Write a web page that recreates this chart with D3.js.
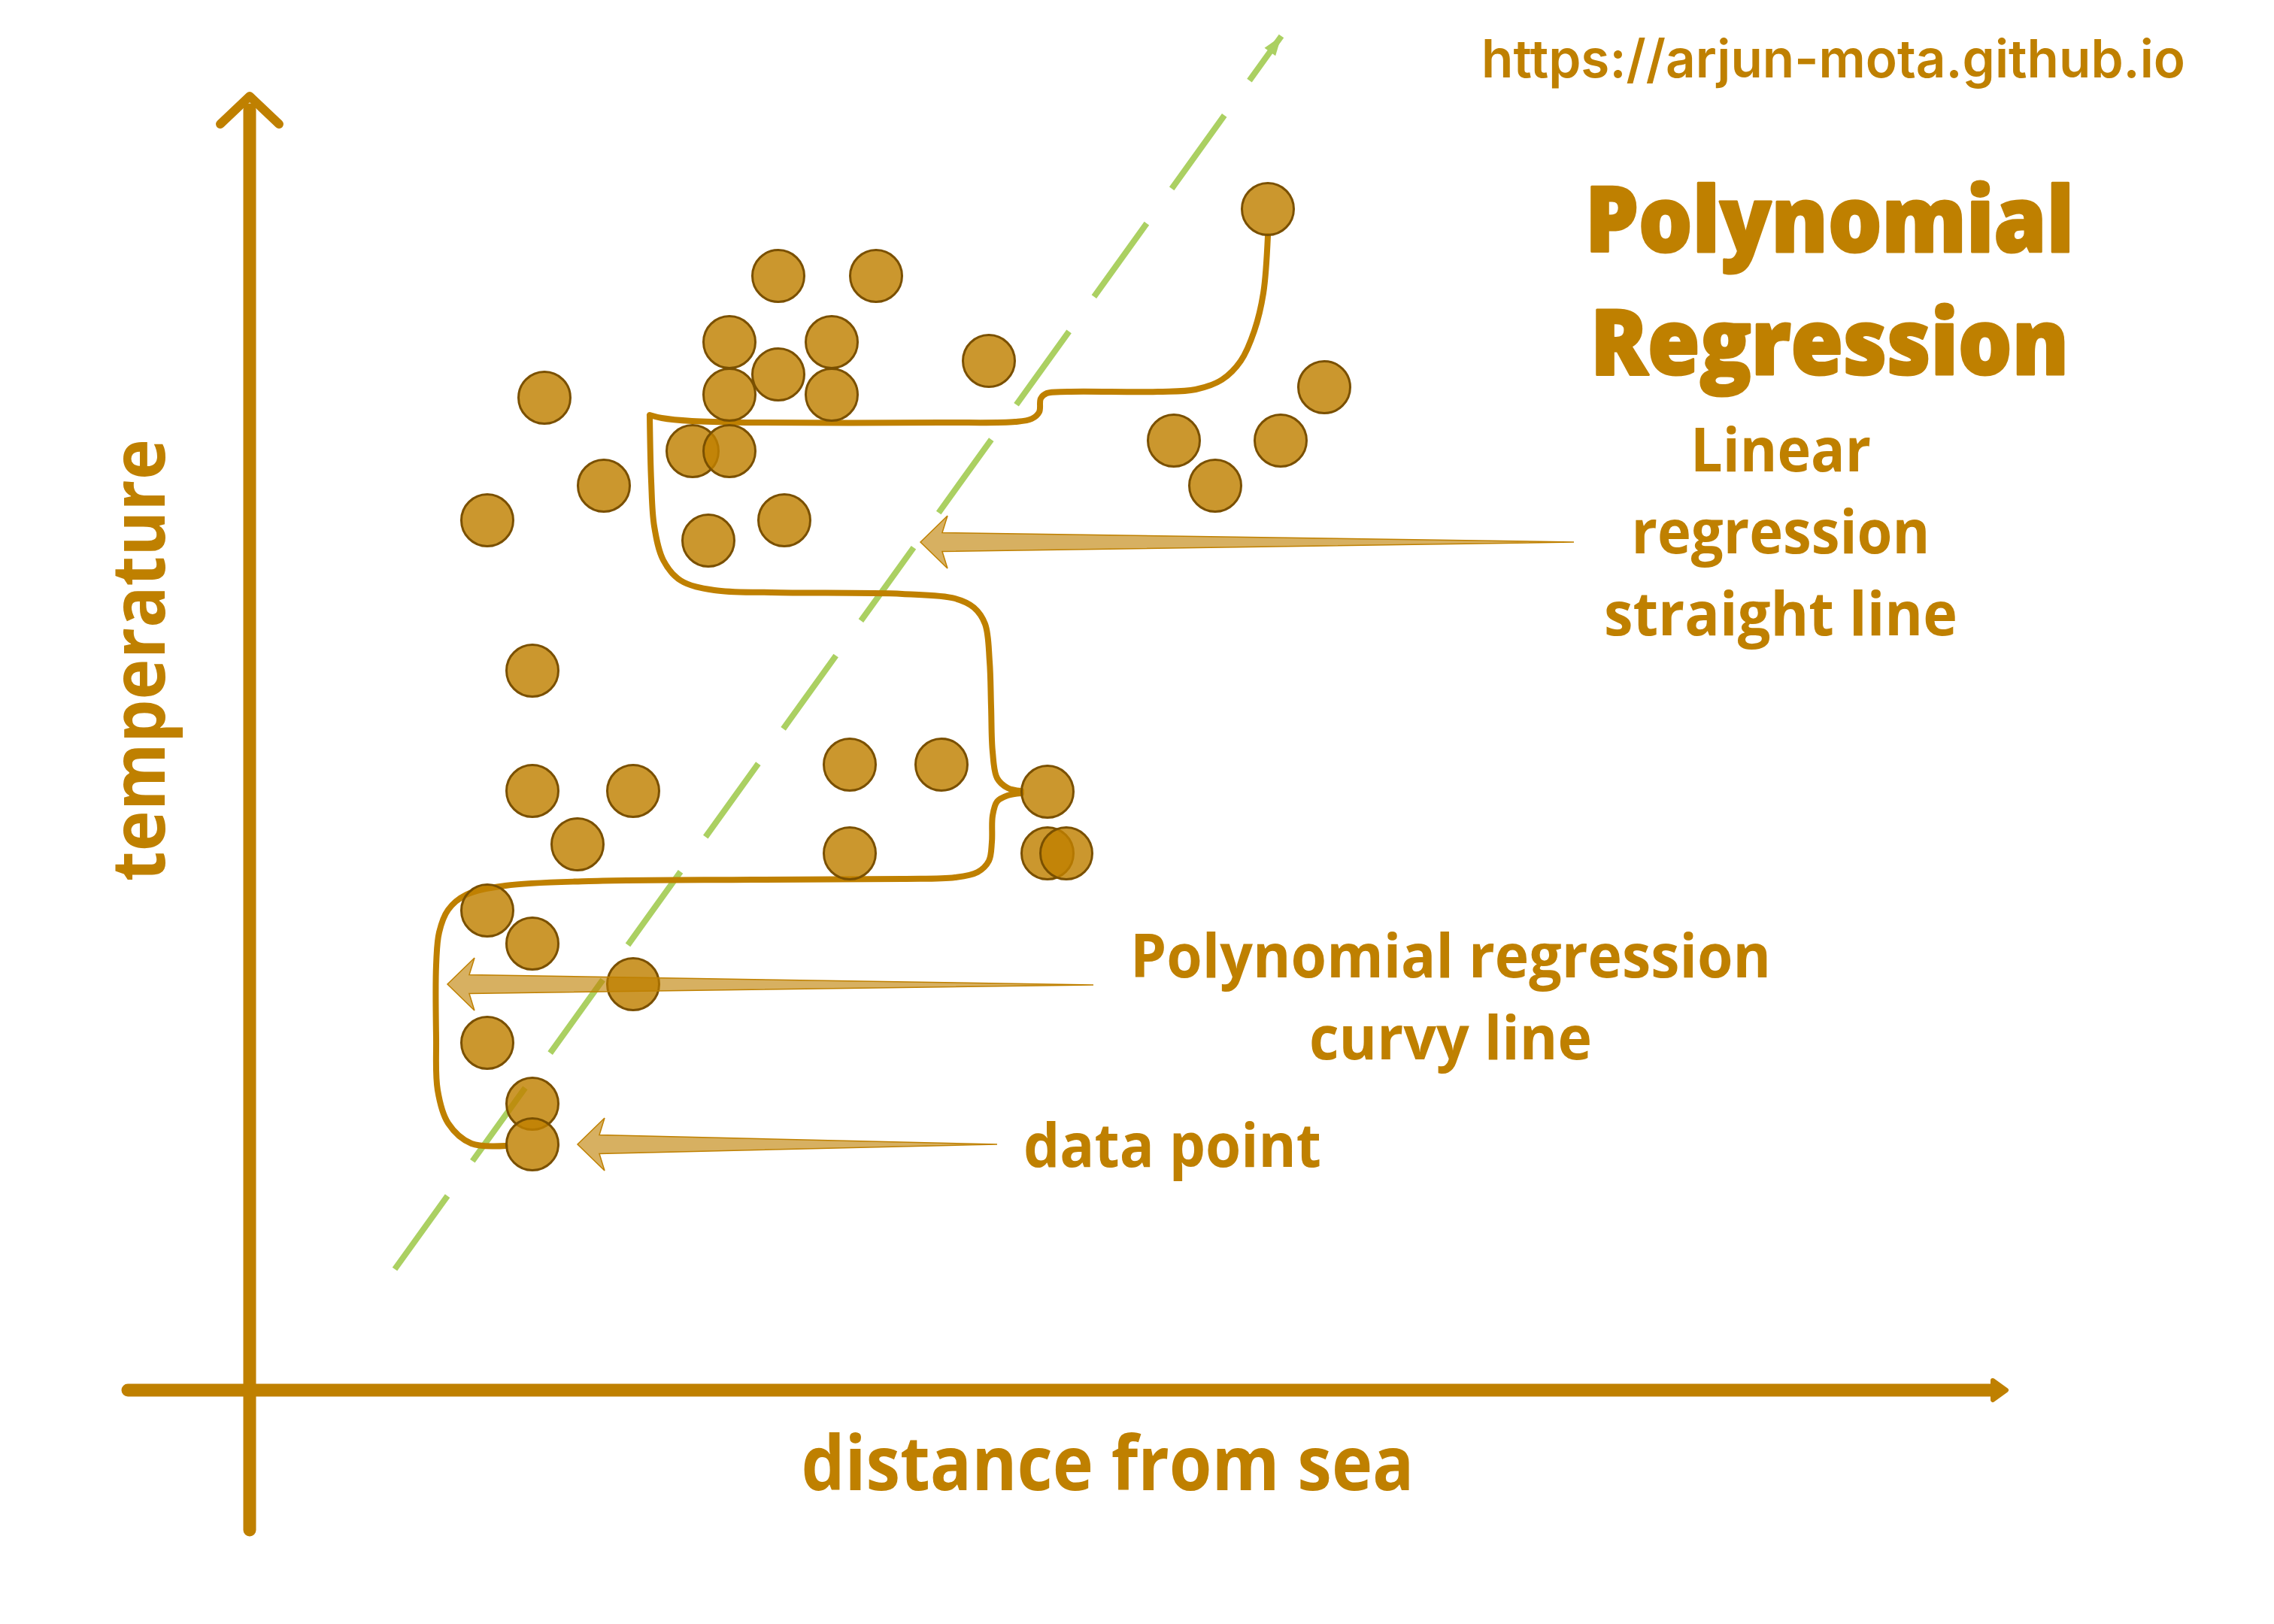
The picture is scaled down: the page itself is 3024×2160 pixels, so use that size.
<!DOCTYPE html>
<html>
<head>
<meta charset="utf-8">
<script src="https://cdn.jsdelivr.net/npm/d3@7/dist/d3.min.js"></script>
<style>
  html, body { margin: 0; padding: 0; background: #fff; }
  svg { display: block; }
  text { font-family: "Open Sans", "Noto Sans", sans-serif; fill: #bf8000; }
</style>
</head>
<body>
<div id="chart"></div>
<script>
// data points: distance from sea (x) and temperature (y)
const distance = [
  67.7, 35.15, 41.65, 31.9, 38.7, 35.15, 31.9, 38.7, 49.15, 19.6,
  29.45, 31.9, 23.55, 15.8, 30.5, 35.55, 61.45, 64.2, 68.55, 71.45,
  18.8, 18.8, 25.5, 21.8, 39.9, 46.0, 53.05, 39.9, 53.05, 54.3,
  15.8, 18.8, 25.5, 15.8, 18.8, 18.8
];
const temperature = [
  78.55, 74.1, 74.1, 69.7, 69.7, 67.55, 66.2, 66.2, 68.45, 66.0,
  62.45, 62.45, 60.15, 57.85, 56.5, 57.85, 63.15, 60.15, 63.15, 66.7,
  47.85, 39.85, 39.85, 36.3, 41.6, 41.6, 39.8, 35.7, 35.7, 35.7,
  31.9, 29.7, 27.0, 23.1, 19.05, 16.35
];

// linear regression fit (straight line), endpoints
const linearFit = [[9.65, 8.05], [68.6, 90.05]];

// polynomial regression curve, drawn as three strokes
const polyLow = [
  [17.0, 16.25], [14.75, 16.4], [13.2, 17.75], [12.5, 19.95], [12.4, 23.45],
  [12.4, 28.25], [12.6, 30.45], [13.2, 31.95], [14.4, 32.95], [17.0, 33.55],
  [22.55, 33.85], [33.4, 33.95], [43.4, 34.0], [46.9, 34.1], [48.4, 34.45],
  [49.15, 35.2], [49.35, 36.45], [49.4, 38.2], [49.7, 39.15], [50.4, 39.55],
  [51.3, 39.7]
];
const polyMid = [
  [51.3, 39.85], [50.4, 40.05], [49.7, 40.7], [49.4, 42.45], [49.3, 45.45],
  [49.2, 48.45], [48.9, 50.95], [48.15, 52.05], [46.9, 52.65], [43.4, 52.95],
  [34.7, 53.05], [30.9, 53.2], [28.65, 53.85], [27.5, 55.2], [26.9, 57.45],
  [26.7, 60.45], [26.6, 64.8]
];
const polyHigh = [
  [26.6, 64.85], [27.4, 64.65], [29.4, 64.45], [33.4, 64.35], [45.9, 64.35],
  [50.9, 64.4], [52.0, 64.6], [52.5, 65.05], [52.6, 65.95], [53.0, 66.3],
  [54.4, 66.4], [60.4, 66.4], [62.9, 66.55], [64.65, 67.2], [65.9, 68.45],
  [66.8, 70.45], [67.4, 72.95], [67.7, 76.75]
];

// annotation arrows (tip -> tail) and their labels
const arrowTips = [[44.6, 56.4], [13.15, 27.0], [21.8, 16.35]];
const arrowTails = [[88.05, 56.4], [56.1, 26.95], [49.7, 16.35]];

const titleLines = ['Polynomial', 'Regression'];
const linearLabel = ['Linear', 'regression', 'straight line'];
const polyLabel = ['Polynomial regression', 'curvy line'];
const pointLabel = 'data point';
const xLabel = 'distance from sea';
const yLabel = 'temperature';
const siteUrl = 'https://arjun-mota.github.io';

const xAxisExtent = [-8.1, 116.1];
const yAxisExtent = [-9.3, 85.15];

const W = 3024, H = 2160;
const GOLD = '#bf8000';
const GREEN = '#abd062';

const x = d3.scaleLinear().domain([0, 100]).range([332, 2332]);
const y = d3.scaleLinear().domain([0, 90]).range([1849, 49]);

const svg = d3.select('#chart').append('svg').attr('width', W).attr('height', H);
svg.append('rect').attr('width', W).attr('height', H).attr('fill', '#fff');

// axes
const axes = svg.append('g');
axes.append('line')
  .attr('x1', x(xAxisExtent[0])).attr('x2', x(xAxisExtent[1]))
  .attr('y1', y(0)).attr('y2', y(0))
  .attr('stroke', GOLD).attr('stroke-width', 17).attr('stroke-linecap', 'round');
axes.append('path')
  .attr('d', `M${x(xAxisExtent[1]) - 4},${y(0) - 13} L${x(xAxisExtent[1]) + 14},${y(0)} L${x(xAxisExtent[1]) - 4},${y(0) + 13} Z`)
  .attr('fill', GOLD).attr('stroke', GOLD).attr('stroke-width', 6).attr('stroke-linejoin', 'round');
axes.append('line')
  .attr('x1', x(0)).attr('x2', x(0))
  .attr('y1', y(yAxisExtent[0])).attr('y2', y(yAxisExtent[1]))
  .attr('stroke', GOLD).attr('stroke-width', 17).attr('stroke-linecap', 'round');
axes.append('path')
  .attr('d', `M${x(0) - 39},${y(yAxisExtent[1]) + 19} L${x(0)},${y(yAxisExtent[1]) - 18} L${x(0) + 39},${y(yAxisExtent[1]) + 19}`)
  .attr('fill', 'none').attr('stroke', GOLD).attr('stroke-width', 12)
  .attr('stroke-linecap', 'round').attr('stroke-linejoin', 'round');

// linear regression (dashed green)
const [p0, p1] = linearFit.map((d) => [x(d[0]), y(d[1])]);
svg.append('line')
  .attr('x1', p0[0]).attr('y1', p0[1]).attr('x2', p1[0]).attr('y2', p1[1])
  .attr('stroke', GREEN).attr('stroke-width', 8).attr('stroke-dasharray', '120 57');
const len = Math.hypot(p1[0] - p0[0], p1[1] - p0[1]);
const ux = (p1[0] - p0[0]) / len, uy = (p1[1] - p0[1]) / len;
svg.append('path')
  .attr('d', `M${p1[0]},${p1[1]} L${p1[0] - ux * 26 - uy * 9},${p1[1] - uy * 26 + ux * 9} L${p1[0] - ux * 26 + uy * 9},${p1[1] - uy * 26 - ux * 9} Z`)
  .attr('fill', GREEN);

// polynomial curve
const curve = d3.line()
  .x((d) => x(d[0]))
  .y((d) => y(d[1]))
  .curve(d3.curveCatmullRom.alpha(0.5));
svg.append('g').selectAll('path')
  .data([polyLow, polyMid, polyHigh])
  .join('path')
  .attr('d', curve)
  .attr('fill', 'none')
  .attr('stroke', GOLD)
  .attr('stroke-width', 8)
  .attr('stroke-linecap', 'round');

// data points
svg.append('g').selectAll('circle')
  .data(d3.range(distance.length))
  .join('circle')
  .attr('cx', (i) => x(distance[i]))
  .attr('cy', (i) => y(temperature[i]))
  .attr('r', 34.5)
  .attr('fill', GOLD)
  .attr('fill-opacity', 0.82)
  .attr('stroke', '#7a5000')
  .attr('stroke-width', 3);

// annotation arrows
const arrowPath = (tip, tail) => {
  const tx = x(tip[0]), ty = y(tip[1]);
  const lx = x(tail[0]), ly = y(tail[1]);
  const l = Math.hypot(lx - tx, ly - ty);
  const ax = (lx - tx) / l, ay = (ly - ty) / l;
  const nx = -ay, ny = ax;
  const pt = (u, n) => `${tx + ax * u + nx * n},${ty + ay * u + ny * n}`;
  return `M${tx},${ty} L${pt(36, -35)} L${pt(29, -12.5)} L${lx},${ly} L${pt(29, 12.5)} L${pt(36, 35)} Z`;
};
svg.append('g').selectAll('path')
  .data(arrowTips)
  .join('path')
  .attr('d', (d, i) => arrowPath(d, arrowTails[i]))
  .attr('fill', GOLD)
  .attr('fill-opacity', 0.62)
  .attr('stroke', GOLD)
  .attr('stroke-width', 1.5)
  .attr('stroke-linejoin', 'miter');

// texts
const label = (str, px, py, size, weight, width, anchor = 'middle') =>
  svg.append('text')
    .attr('x', px).attr('y', py)
    .attr('font-size', size).attr('font-weight', weight)
    .attr('text-anchor', anchor)
    .attr('textLength', width).attr('lengthAdjust', 'spacingAndGlyphs')
    .text(str);

label(siteUrl, 1970, 103, 70, 600, 936, 'start').style('font-family', 'Inter, "Open Sans", sans-serif');

const titleW = [650, 636];
titleLines.forEach((t, i) =>
  label(t, 2433, 335 + i * 163, 120, 800, titleW[i])
    .attr('stroke', GOLD).attr('stroke-width', 3).attr('stroke-linejoin', 'round'));

const linW = [240, 397, 470];
linearLabel.forEach((t, i) => label(t, 2368, 627 + i * 109, 80, 700, linW[i]));

const polyW = [852, 376];
polyLabel.forEach((t, i) => label(t, 1929, 1300 + i * 109, 80, 700, polyW[i]));

label(pointLabel, 1361, 1552, 80, 700, 396, 'start');

label(xLabel, 1473, 1982, 100, 700, 815);

svg.append('text')
  .attr('transform', 'translate(219,878) rotate(-90)')
  .attr('font-size', 98).attr('font-weight', 700)
  .attr('text-anchor', 'middle')
  .attr('textLength', 588).attr('lengthAdjust', 'spacingAndGlyphs')
  .text(yLabel);
</script>
</body>
</html>
